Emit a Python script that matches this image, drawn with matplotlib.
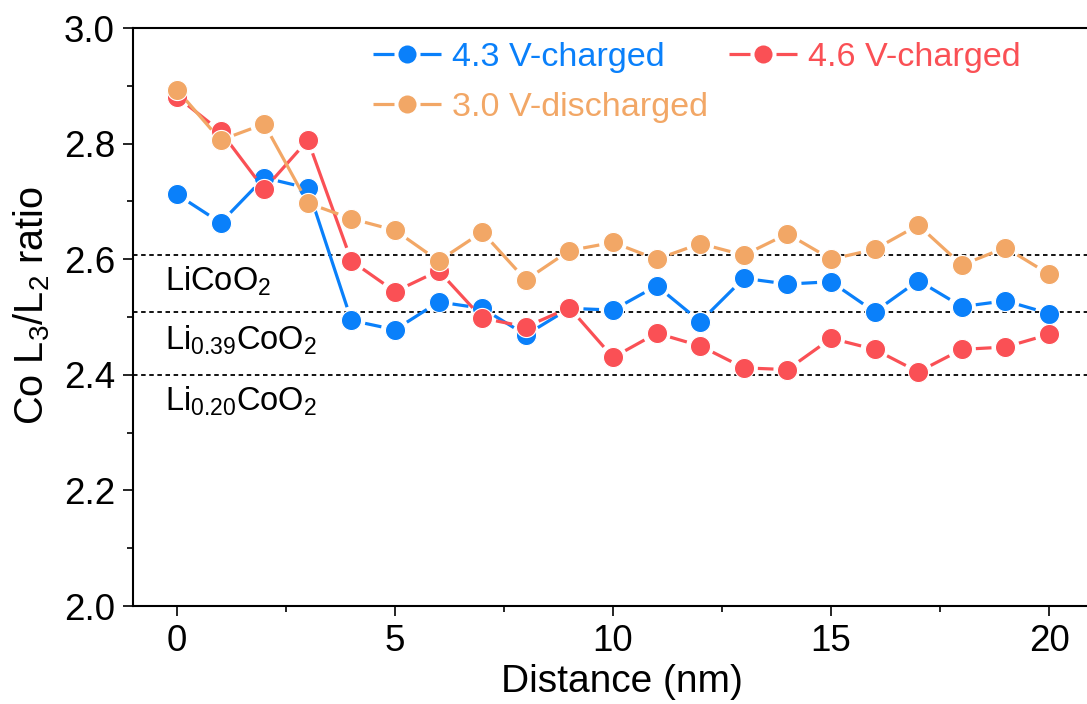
import numpy as np
import matplotlib
matplotlib.use("Agg")
import matplotlib.pyplot as plt
from matplotlib.lines import Line2D
from matplotlib.legend_handler import HandlerBase
from matplotlib.collections import LineCollection

plt.rcParams['font.family'] = ['Liberation Sans', 'DejaVu Sans']
plt.rcParams['mathtext.fontset'] = 'custom'
plt.rcParams['mathtext.rm'] = 'Liberation Sans'
plt.rcParams['mathtext.it'] = 'Liberation Sans'
plt.rcParams['mathtext.default'] = 'regular'

# ---- data ----
distance = list(range(21))
ratio_43V = [2.712, 2.663, 2.741, 2.723, 2.494, 2.478, 2.526, 2.515, 2.469, 2.515,
             2.512, 2.554, 2.492, 2.567, 2.557, 2.561, 2.509, 2.563, 2.518, 2.528, 2.506]
ratio_46V = [2.881, 2.821, 2.721, 2.806, 2.597, 2.544, 2.580, 2.498, 2.483, 2.516,
             2.430, 2.472, 2.450, 2.412, 2.409, 2.463, 2.444, 2.405, 2.444, 2.448, 2.470]
ratio_30V = [2.893, 2.806, 2.834, 2.697, 2.670, 2.650, 2.597, 2.647, 2.564, 2.615,
             2.629, 2.600, 2.627, 2.607, 2.644, 2.600, 2.617, 2.659, 2.590, 2.620, 2.574]
series_labels = ['4.3 V-charged', '4.6 V-charged', '3.0 V-discharged']
series_colors = ['#0A80FA', '#FA5055', '#F2A766']

ref_levels = [2.607, 2.508, 2.400]
ref_names = ['LiCoO$_2$', 'Li$_{0.39}$CoO$_2$', 'Li$_{0.20}$CoO$_2$']
ref_text_y = [2.561, 2.459, 2.355]

W, H, DPI = 1087, 704, 100
fig = plt.figure(figsize=(W / DPI, H / DPI), dpi=DPI)
ax = fig.add_axes([133 / W, 1 - 606 / H, 1 - 133 / W, (606 - 28) / H])
ax.set_xlim(-1.01, 20.87)
ax.set_ylim(2.0, 3.0)

ax.set_xticks([0, 5, 10, 15, 20])
ax.set_xticks([2.5, 7.5, 12.5, 17.5], minor=True)
ax.set_yticks([2.0, 2.2, 2.4, 2.6, 2.8, 3.0])
ax.set_yticks([2.1, 2.3, 2.5, 2.7, 2.9], minor=True)
ax.yaxis.set_major_formatter(matplotlib.ticker.FormatStrFormatter('%.1f'))
ax.tick_params(which='major', direction='out', length=7, width=1.2, labelsize=26.5, pad=6)
ax.tick_params(which='minor', direction='out', length=4, width=1.2)
for s in ['left', 'bottom', 'top']:
    ax.spines[s].set_linewidth(1.5)
ax.spines['right'].set_visible(False)

ax.set_xlabel('Distance (nm)', fontsize=28, labelpad=4)
ax.xaxis.set_label_coords(0.512, -0.1)
ax.set_ylabel('Co L$_3$/L$_2$ ratio', fontsize=28.5, labelpad=8)
ax.yaxis.set_label_coords(-0.085, 0.52)

for lvl, name, ty in zip(ref_levels, ref_names, ref_text_y):
    ax.axhline(lvl, color='black', lw=1.3, ls=(0, (2.5, 2)), zorder=1)
    ax.text(-0.28, ty, name, fontsize=23.5, va='center', ha='left')

fig.canvas.draw()
GAP_PX = 14.0
MS = 14.5


def gapped_segments(xs, ys):
    pts = ax.transData.transform(np.column_stack([xs, ys]))
    segs = []
    for p0, p1 in zip(pts[:-1], pts[1:]):
        d = p1 - p0
        L = np.hypot(*d)
        if L <= 2 * GAP_PX:
            continue
        u = d / L
        q = ax.transData.inverted().transform(np.array([p0 + u * GAP_PX, p1 - u * GAP_PX]))
        segs.append(q)
    return segs


data = [ratio_43V, ratio_46V, ratio_30V]
zorders = [3, 5, 7]
handles = []
for vals, lab, col, z in zip(data, series_labels, series_colors, zorders):
    lc = LineCollection(gapped_segments(distance, vals), colors=col, linewidths=2.3,
                        zorder=z, capstyle='butt')
    ax.add_collection(lc)
    ax.plot(distance, vals, ls='none', marker='o', ms=MS, mfc=col, mec='white',
            mew=0.8, zorder=z + 1, clip_on=False)
    handles.append(Line2D([], [], color=col, lw=2.3, marker='o', ms=13, mec='none'))


class GappedHandler(HandlerBase):
    def create_artists(self, legend, orig_handle, xdescent, ydescent, width, height,
                       fontsize, trans):
        y = height / 2 - ydescent
        x0 = -xdescent
        col = orig_handle.get_color()
        seg = width * 0.31
        l1 = Line2D([x0, x0 + seg], [y, y], color=col, lw=2.3, solid_capstyle='butt')
        l2 = Line2D([x0 + width - seg, x0 + width], [y, y], color=col, lw=2.3,
                    solid_capstyle='butt')
        m = Line2D([x0 + width / 2], [y], ls='none', marker='o', ms=13, mfc=col, mec='none')
        for a in (l1, l2, m):
            a.set_transform(trans)
        return [l1, l2, m]


order = [0, 2, 1]
leg = ax.legend([handles[i] for i in order], [series_labels[i] for i in order],
                handler_map={Line2D: GappedHandler()}, ncol=2, frameon=False,
                fontsize=24.6, loc='upper left', bbox_to_anchor=(373 / W, 1 - 42 / H),
                bbox_transform=fig.transFigure, handlelength=2.0, handletextpad=0.32,
                columnspacing=0.6, labelspacing=0.56, borderpad=0, borderaxespad=0)
for txt, i in zip(leg.get_texts(), order):
    txt.set_color(series_colors[i])

fig.savefig('out.png', dpi=DPI)
